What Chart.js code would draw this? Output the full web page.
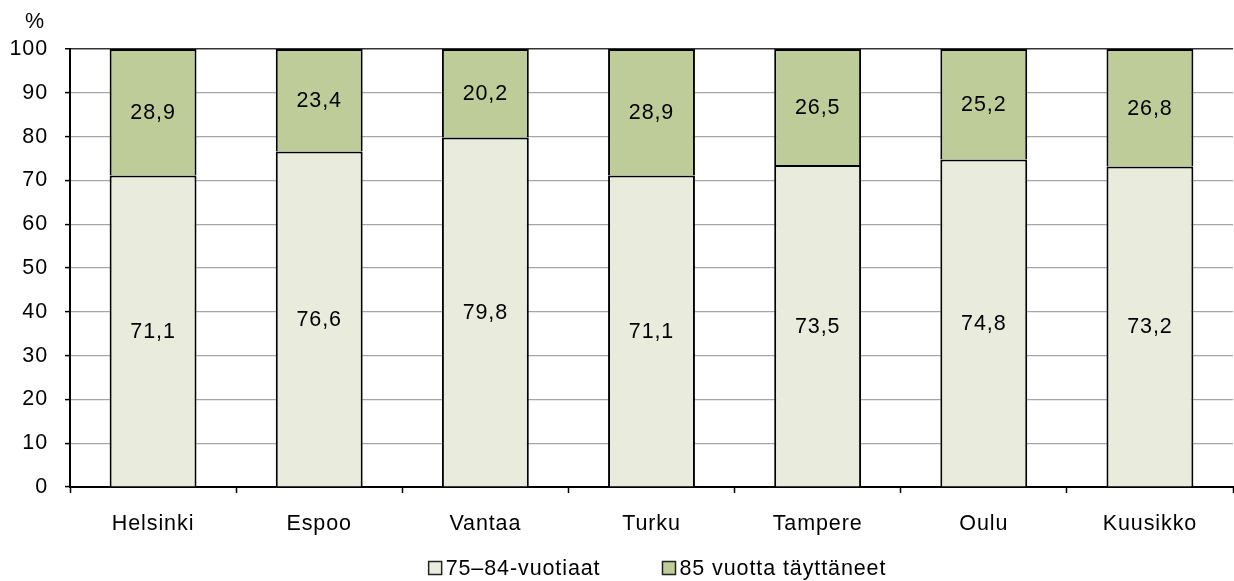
<!DOCTYPE html>
<html>
<head>
<meta charset="utf-8">
<script src="https://cdn.jsdelivr.net/npm/chart.js@4.4.0/dist/chart.umd.min.js"></script>
<style>
    html, body { margin: 0; padding: 0; background: #fff; }
    #wrap { width: 1234px; height: 581px; }
</style>
</head>
<body>
<div id="wrap"><canvas id="chart" width="1234" height="581"></canvas></div>
<script>
const cities = ['Helsinki', 'Espoo', 'Vantaa', 'Turku', 'Tampere', 'Oulu', 'Kuusikko'];
const age75to84 = [71.1, 76.6, 79.8, 71.1, 73.5, 74.8, 73.2];
const age85plus = [28.9, 23.4, 20.2, 28.9, 26.5, 25.2, 26.8];
const seriesNames = ['75\u201384-vuotiaat', '85 vuotta täyttäneet'];
const yTicks = [0, 10, 20, 30, 40, 50, 60, 70, 80, 90, 100];

const FONT = 'Liberation Sans';
const SIZE = 21.5;

// the original text is set a bit wider than plain Arial
const spacing = {
    id: 'spacing',
    beforeDraw(chart) {
        chart.ctx.letterSpacing = '0.9px';
    }
};

// values in the middle of each segment, finnish decimal comma
const valueLabels = {
    id: 'valueLabels',
    afterDatasetsDraw(chart) {
        const ctx = chart.ctx;
        ctx.save();
        ctx.font = SIZE + 'px "' + FONT + '"';
        ctx.fillStyle = '#000';
        ctx.textAlign = 'center';
        ctx.textBaseline = 'middle';
        chart.data.datasets.forEach((ds, i) => {
            chart.getDatasetMeta(i).data.forEach((bar, j) => {
                const y = (bar.y + bar.base) / 2;
                ctx.fillText(ds.data[j].toFixed(1).replace('.', ','), bar.x, y + 1);
            });
        });
        ctx.restore();
    }
};

// unit label above the y axis and the legend row
const extras = {
    id: 'extras',
    afterDraw(chart) {
        const ctx = chart.ctx;
        const area = chart.chartArea;
        ctx.save();
        ctx.font = SIZE + 'px "' + FONT + '"';
        ctx.fillStyle = '#000';
        ctx.textBaseline = 'middle';
        ctx.textAlign = 'left';
        ctx.fillText('%', 25, 22);

        const box = 13, gap = 4, itemGap = 62;
        const items = chart.data.datasets.map(ds => ({
            text: ds.label,
            color: ds.backgroundColor,
            w: box + gap + ctx.measureText(ds.label).width
        }));
        const total = items.reduce((s, it) => s + it.w, 0) + itemGap * (items.length - 1);
        let x = (area.left + area.right) / 2 - total / 2 + 6;
        const y = 568;
        items.forEach(it => {
            ctx.fillStyle = it.color;
            ctx.fillRect(x, y - box / 2, box, box);
            ctx.strokeStyle = '#222';
            ctx.lineWidth = 1.5;
            ctx.strokeRect(x, y - box / 2, box, box);
            ctx.fillStyle = '#000';
            ctx.fillText(it.text, x + box + gap, y + 1);
            x += it.w + itemGap;
        });
        ctx.restore();
    }
};

new Chart(document.getElementById('chart'), {
    type: 'bar',
    data: {
        labels: cities,
        datasets: [
            {
                label: seriesNames[0],
                data: age75to84,
                backgroundColor: '#E9ECDD',
                borderColor: '#000',
                borderWidth: 2,
                barPercentage: 0.523,
                categoryPercentage: 1
            },
            {
                label: seriesNames[1],
                data: age85plus,
                backgroundColor: '#BDCC98',
                borderColor: '#000',
                borderWidth: 2,
                barPercentage: 0.523,
                categoryPercentage: 1
            }
        ]
    },
    options: {
        responsive: false,
        animation: false,
        devicePixelRatio: 1,
        layout: { padding: { top: 49, right: 1, bottom: 38, left: 0 } },
        plugins: {
            legend: { display: false },
            tooltip: { enabled: false }
        },
        scales: {
            x: {
                stacked: true,
                afterFit(scale) { scale.height = 56; },
                grid: {
                    offset: true,
                    drawOnChartArea: false,
                    drawTicks: true,
                    tickLength: 6,
                    tickColor: '#000',
                    tickWidth: 1.5
                },
                border: { color: '#000', width: 2 },
                ticks: {
                    color: '#000',
                    font: { family: FONT, size: SIZE },
                    padding: 18,
                    maxRotation: 0
                }
            },
            y: {
                stacked: true,
                min: 0,
                max: 100,
                afterFit(scale) { scale.width = 70; },
                afterBuildTicks(scale) { scale.ticks = yTicks.map(v => ({ value: v })); },
                grid: {
                    color: ctx => ctx.tick && ctx.tick.value === 100 ? '#333' : '#A6A6A6',
                    lineWidth: ctx => ctx.tick && ctx.tick.value === 100 ? 1.5 : 1.2,
                    tickLength: 5,
                    tickColor: '#000',
                    tickWidth: 1.5
                },
                border: { color: '#000', width: 2 },
                ticks: {
                    color: '#000',
                    font: { family: FONT, size: SIZE },
                    padding: 17
                }
            }
        }
    },
    plugins: [spacing, valueLabels, extras]
});
</script>
</body>
</html>
